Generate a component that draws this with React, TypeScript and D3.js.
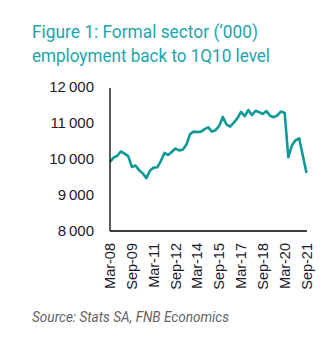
import React from "react";
import * as d3 from "d3";

const quarters: string[] = [];
const monthNames = ["Mar", "Jun", "Sep", "Dec"];
for (let y = 2008; y <= 2021; y++) {
  for (const m of monthNames) {
    const lab = `${m}-${String(y).slice(2)}`;
    quarters.push(lab);
    if (lab === "Sep-21") break;
  }
}

const employment = [
  9920, 10040, 10090, 10210, 10150, 10080, 9780, 9820, 9690, 9600,
  9470, 9680, 9760, 9770, 9950, 10170, 10110, 10200, 10290, 10240,
  10260, 10400, 10690, 10760, 10750, 10760, 10830, 10880, 10760, 10800,
  10920, 11170, 10960, 10900, 11010, 11130, 11310, 11190, 11360, 11220,
  11340, 11300, 11250, 11330, 11200, 11160, 11210, 11320, 11280, 10050,
  10380, 10520, 10570, 10090, 9610,
];

const yTicks = [8000, 9000, 10000, 11000, 12000];
const xTickLabels = ["Mar-08", "Sep-09", "Mar-11", "Sep-12", "Mar-14", "Sep-15", "Mar-17", "Sep-18", "Mar-20", "Sep-21"];

const titleLines = ["Figure 1: Formal sector (\u2018000)", "employment back to 1Q10 level"];
const titleWidths = [226, 238];
const source = "Source: Stats SA, FNB Economics";

export default function App() {
  const W = 336, H = 338;
  const left = 110, right = 306.5, top = 87, bottom = 231;
  const x = d3.scalePoint<string>().domain(quarters).range([left, right]);
  const y = d3.scaleLinear().domain([8000, 12000]).range([bottom, top]);
  const line = d3.line<number>().x((_, i) => x(quarters[i])!).y((d) => y(d)).curve(d3.curveLinear);
  const fmt = (v: number) => d3.format(",")(v).replace(",", "\u2009");
  return (
    <svg width={W} height={H} style={{ position: "absolute", left: 0, top: 0 }}>
      <rect width={W} height={H} fill="#fff" />
      {titleLines.map((t, i) => (
        <text key={i} x={32} y={38 + i * 24} fontFamily="Roboto" fontSize={18} fill="#1BA6AD" fontWeight={400}
          textLength={titleWidths[i]} lengthAdjust="spacingAndGlyphs">
          {t}
        </text>
      ))}
      {yTicks.map((v) => (
        <text key={v} x={94} y={y(v)} dy="0.35em" textAnchor="end" fontFamily="Liberation Sans" fontSize={15} fill="#1a1a2a">
          {fmt(v)}
        </text>
      ))}
      {xTickLabels.map((l) => (
        <text key={l} transform={`translate(${x(l)! + 5},${bottom + 12}) rotate(-90)`} textAnchor="end" fontFamily="Liberation Sans" fontSize={14.5} fill="#1a1a2a">
          {l}
        </text>
      ))}
      <path d={line(employment)!} fill="none" stroke="#0E9A97" strokeWidth={2.6} strokeLinejoin="round" />
      <line x1={left} x2={left} y1={top + 1} y2={bottom} stroke="#000" strokeWidth={1.3} />
      <line x1={left} x2={right + 0.5} y1={bottom} y2={bottom} stroke="#000" strokeWidth={1.3} />
      <text x={32} y={322} fontFamily="Roboto" fontStyle="italic" fontSize={14} fill="#5f6368" fontWeight={400}
        textLength={197} lengthAdjust="spacingAndGlyphs">
        {source}
      </text>
    </svg>
  );
}
